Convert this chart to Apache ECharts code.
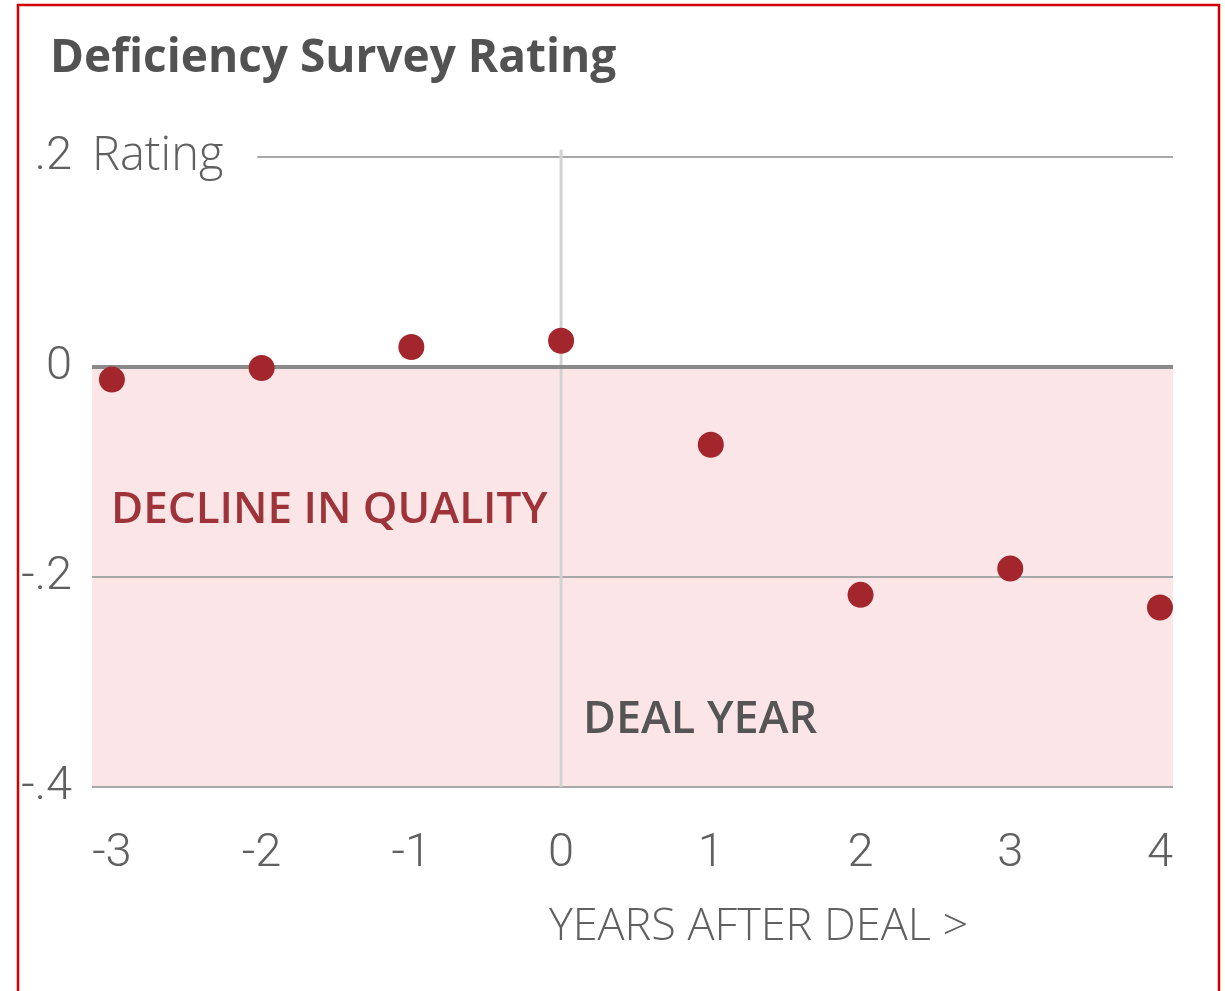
<!DOCTYPE html>
<html>
<head>
<meta charset="utf-8">
<script src="https://cdn.jsdelivr.net/npm/echarts@6/dist/echarts.min.js"></script>
<style>
  html, body { margin: 0; padding: 0; background: #fff; }
  #main { width: 1225px; height: 991px; }
</style>
</head>
<body>
<div id="main"></div>
<script>
// years relative to the deal, and the average survey rating for each
const years = [-3, -2, -1, 0, 1, 2, 3, 4];
const rating = [-0.012, -0.001, 0.019, 0.025, -0.074, -0.217, -0.192, -0.229];
const yTickValues = [-0.4, -0.2, 0, 0.2];
const yTickLabels = ['-.4', '-.2', '0', '.2'];

const chart = echarts.init(document.getElementById('main'));

const labelColor = '#606060';

let option = {
    backgroundColor: '#fff',
    animation: false,
    title: {
        text: 'Deficiency Survey Rating',
        left: 45,
        top: 31,
        textStyle: {
            fontFamily: 'Open Sans',
            fontSize: 46,
            fontWeight: 700,
            color: '#525252'
        }
    },
    grid: { left: 92, right: 52, top: 157, bottom: 204 },
    xAxis: {
        type: 'value',
        min: -3.133,
        max: 4.087,
        axisLine: { show: false, onZero: false },
        axisTick: { show: false },
        splitLine: { show: false },
        axisLabel: {
            customValues: years,
            margin: 44,
            fontFamily: 'Roboto',
            fontWeight: 300,
            fontSize: 47,
            color: labelColor
        },
        name: 'YEARS AFTER DEAL >',
        nameLocation: 'middle',
        nameGap: 118,
        nameTextStyle: {
            fontFamily: 'Open Sans',
            fontWeight: 300,
            fontSize: 45,
            color: labelColor,
            padding: [0, 0, 0, 252]
        }
    },
    yAxis: {
        type: 'value',
        min: -0.4,
        max: 0.2,
        interval: 0.2,
        z: 3,
        axisLine: { show: false, onZero: false },
        axisTick: { show: false },
        splitLine: { lineStyle: { color: '#a8a8a8', width: 2 } },
        axisLabel: {
            margin: 20,
            fontFamily: 'Roboto',
            fontWeight: 300,
            fontSize: 47,
            color: labelColor,
            formatter: function (v) {
                let i = yTickValues.findIndex(t => Math.abs(t - v) < 1e-9);
                return i >= 0 ? yTickLabels[i] : '';
            }
        },
        name: 'Rating',
        nameLocation: 'end',
        nameGap: 0,
        nameTextStyle: {
            fontFamily: 'Open Sans',
            fontWeight: 300,
            fontSize: 47,
            color: labelColor,
            align: 'left',
            verticalAlign: 'middle',
            backgroundColor: '#fff',
            padding: [0, 34, 0, 0]
        }
    },
    graphic: [
        {
            type: 'rect',
            shape: { x: 18, y: 5, width: 1201, height: 1100 },
            style: { fill: null, stroke: '#d40000', lineWidth: 2.5 },
            z: 20
        },
        {
            type: 'text',
            left: 111,
            top: 488,
            style: {
                text: 'DECLINE IN QUALITY',
                fontFamily: 'Open Sans',
                fontWeight: 600,
                fontSize: 44,
                fill: '#9e3439'
            },
            z: 10
        },
        {
            type: 'text',
            left: 583,
            top: 698,
            style: {
                text: 'DEAL YEAR',
                fontFamily: 'Open Sans',
                fontWeight: 600,
                fontSize: 45,
                fill: '#555'
            },
            z: 10
        }
    ],
    series: [
        {
            // pink "decline" band below zero
            type: 'line',
            data: [],
            z: 1,
            markArea: {
                silent: true,
                itemStyle: { color: '#fce5e7' },
                data: [[{ yAxis: 0 }, { yAxis: -0.4 }]]
            }
        },
        {
            // deal year marker
            type: 'line',
            data: [[0, -0.4], [0, 0.207]],
            clip: false,
            symbol: 'none',
            z: 4,
            lineStyle: { color: '#d2d2d2', width: 3 }
        },
        {
            // zero baseline
            type: 'line',
            data: [[-3.133, 0], [4.087, 0]],
            symbol: 'none',
            z: 5,
            lineStyle: { color: '#8a8a8a', width: 4 }
        },
        {
            type: 'scatter',
            data: years.map((y, i) => [y, rating[i]]),
            symbolSize: 26,
            z: 6,
            itemStyle: { color: '#a3262c', opacity: 1 }
        }
    ]
};

chart.setOption(option);
</script>
</body>
</html>
